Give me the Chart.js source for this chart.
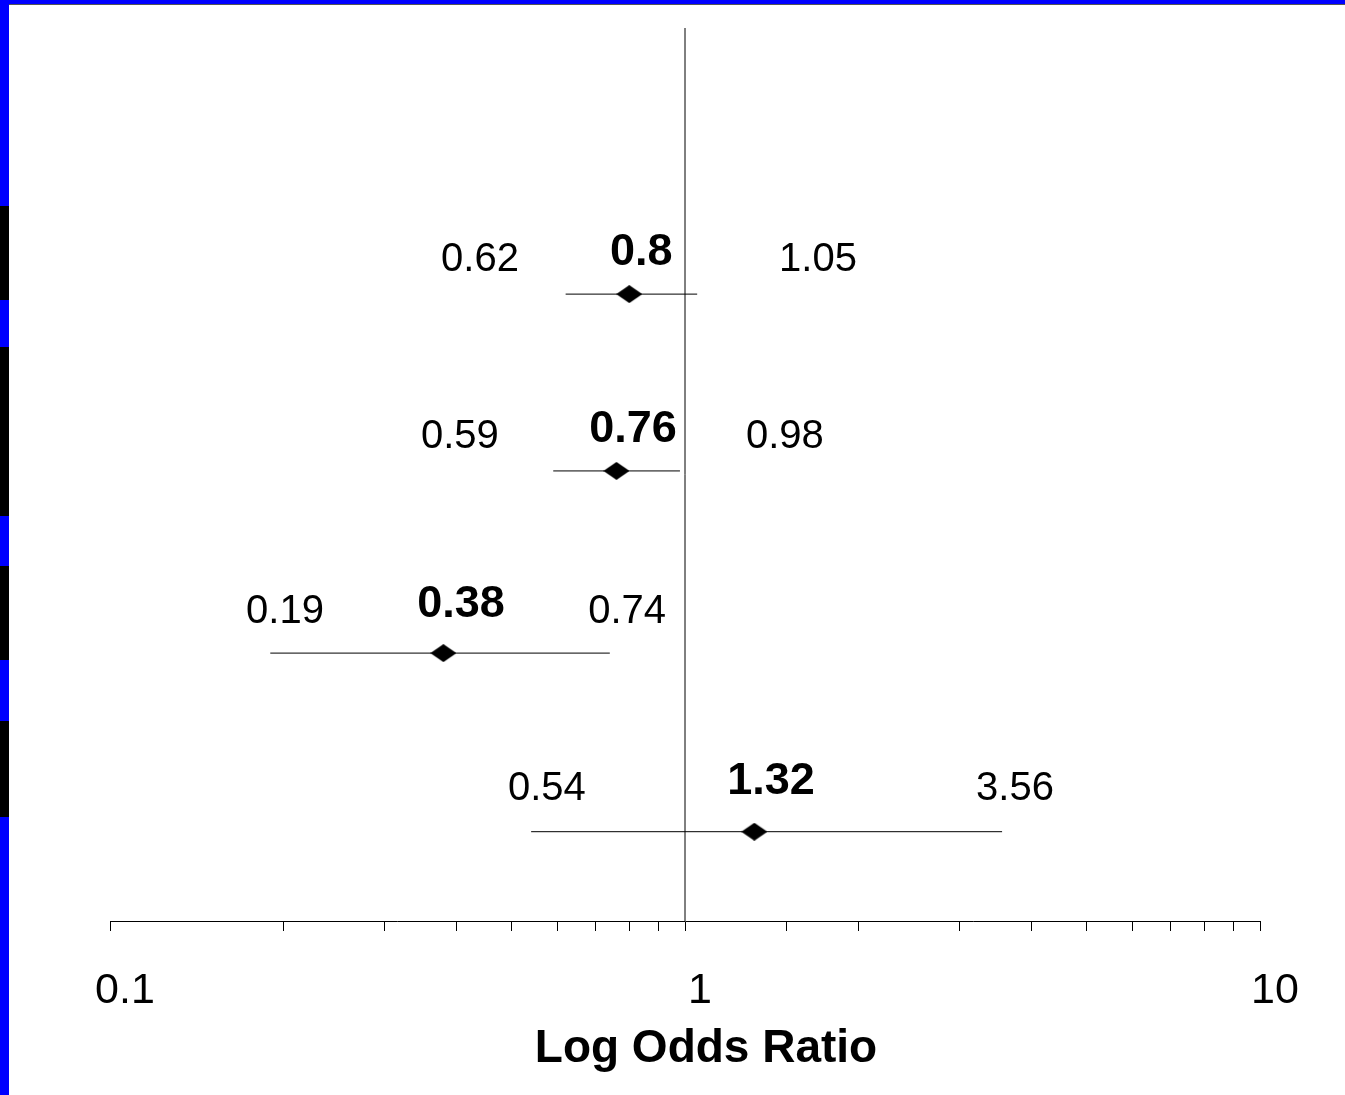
<!DOCTYPE html>
<html lang="en">
  <head>
    <title>Log Odds Ratio</title>
    <meta charset="utf-8">
    <style>
      html, body { margin: 0; padding: 0; background: #fff; }
      #wrap { position: relative; width: 1345px; height: 1095px; overflow: hidden; }
      .bar { position: absolute; }
    </style>
  </head>
  <body>
    <div id="wrap">
      <canvas id="myChart" width="1345" height="1095"></canvas>
      <!-- frame: blue top edge, blue/black strip on the left -->
      <div class="bar" style="left:0;top:0;width:1345px;height:4px;background:#0000ff"></div>
      <div class="bar" style="left:9px;top:4px;width:1336px;height:1px;background:#555"></div>
      <div class="bar" style="left:0;top:0;width:9px;height:1095px;background:#0000ff"></div>
      <div class="bar" style="left:0;top:206px;width:9px;height:94px;background:#000"></div>
      <div class="bar" style="left:0;top:347px;width:9px;height:169px;background:#000"></div>
      <div class="bar" style="left:0;top:566px;width:9px;height:94px;background:#000"></div>
      <div class="bar" style="left:0;top:721px;width:9px;height:96px;background:#000"></div>
    </div>

    <script src="https://cdn.jsdelivr.net/npm/chart.js@4.4.0/dist/chart.umd.min.js"></script>
    <script>
    // odds ratios with 95% CI, top row first
    const rows = [3.51, 2.52, 1.5, 0.5]
    const oddsRatio = [0.8, 0.76, 0.38, 1.32]
    const ciLow = [0.62, 0.59, 0.19, 0.54]
    const ciHigh = [1.05, 0.98, 0.74, 3.56]
    const tickLabels = ['0.1', '1', '10']
    const axisTitle = 'Log Odds Ratio'

    // where the value labels sit (axis units), same order as rows: [low, OR, high]
    const labelAnchorX = [
      [0.440, 0.839, 1.703],
      [0.406, 0.812, 1.492],
      [0.2015, 0.4077, 0.793],
      [0.575, 1.411, 3.749]
    ]
    const labelRise = [0.19, 0.19, 0.23, 0.24]

    const FONT = '"Liberation Sans", Arial, sans-serif'

    // flattened diamond marker
    const diamond = document.createElement('canvas')
    diamond.width = 26
    diamond.height = 18
    let dc = diamond.getContext('2d')
    dc.fillStyle = '#000'
    dc.beginPath()
    dc.moveTo(0, 9); dc.lineTo(13, 0); dc.lineTo(26, 9); dc.lineTo(13, 18)
    dc.closePath()
    dc.fill()

    let datasets = []
    // reference line at OR = 1
    datasets.push({
      type: 'line',
      data: [{x: 1, y: 0}, {x: 1, y: 5}],
      borderColor: '#000',
      borderWidth: 1,
      pointRadius: 0
    })
    rows.forEach((y, i) => {
      datasets.push({
        type: 'line',
        data: [{x: ciLow[i], y: y}, {x: ciHigh[i], y: y}],
        borderColor: '#000',
        borderWidth: 1,
        pointRadius: 0
      })
    })
    datasets.push({
      type: 'scatter',
      data: rows.map((y, i) => ({x: oddsRatio[i], y: y})),
      pointStyle: diamond,
      pointRadius: 13
    })

    const valueLabels = {
      id: 'valueLabels',
      afterDatasetsDraw(chart) {
        const ctx = chart.ctx
        const xs = chart.scales.x, ys = chart.scales.y
        ctx.save()
        ctx.fillStyle = '#000'
        ctx.textAlign = 'center'
        ctx.textBaseline = 'middle'
        rows.forEach((y, i) => {
          const vals = [ciLow[i], oddsRatio[i], ciHigh[i]]
          vals.forEach((v, j) => {
            const bold = j === 1
            ctx.font = (bold ? 'bold 45px ' : '40px ') + FONT
            const px = xs.getPixelForValue(labelAnchorX[i][j])
            const py = ys.getPixelForValue(y + labelRise[i] + (bold ? 0.04 : 0))
            ctx.fillText(String(v), px, py)
          })
        })
        // axis title sits a little right of the plot centre in the original
        const ca = chart.chartArea
        ctx.font = 'bold 46px ' + FONT
        ctx.fillText(axisTitle, (ca.left + ca.right) / 2 + 21, 1049)
        ctx.restore()
      }
    }

    const ctx = document.getElementById('myChart').getContext('2d')
    window.myChart = new Chart(ctx, {
      data: { datasets: datasets },
      plugins: [valueLabels],
      options: {
        responsive: false,
        animation: false,
        layout: { padding: { left: 110, right: 85, top: 28, bottom: 13 } },
        plugins: { legend: { display: false }, tooltip: { enabled: false } },
        scales: {
          x: {
            type: 'logarithmic',
            min: 0.1,
            max: 10,
            afterFit(scale) { scale.height = 161 },
            grid: { drawOnChartArea: false, drawTicks: true, tickLength: 10, color: '#000', lineWidth: 1 },
            border: { display: true, color: '#000', width: 1 },
            ticks: {
              autoSkip: false,
              maxRotation: 0,
              padding: 34,
              labelOffset: 15,
              color: '#000',
              font: { family: FONT, size: 43 },
              callback: function(value) {
                const s = String(value)
                return tickLabels.includes(s) ? s : ''
              }
            }
          },
          y: {
            type: 'linear',
            min: 0,
            max: 5,
            display: false
          }
        }
      }
    })
    </script>
  </body>
</html>
